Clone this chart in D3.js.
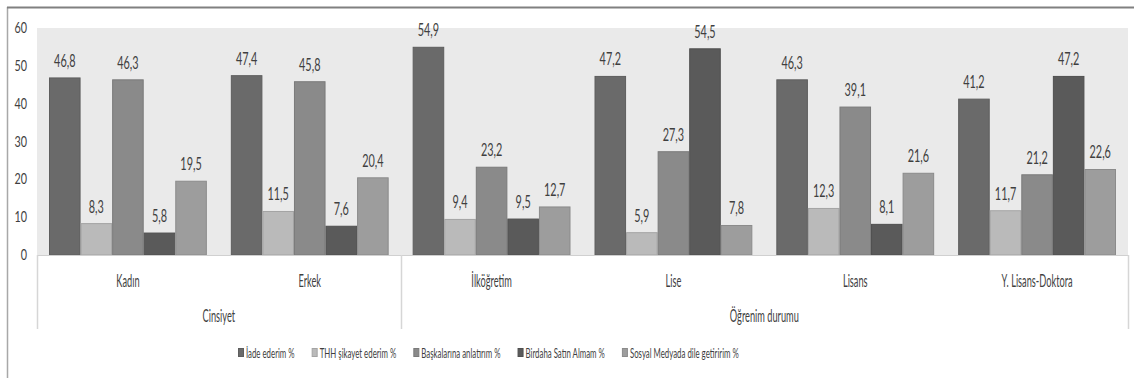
<!DOCTYPE html>
<html>
<head>
<meta charset="utf-8">
<script src="https://cdn.jsdelivr.net/npm/d3@7"></script>
<style>
  html, body { margin: 0; padding: 0; background: #fff; }
  svg { display: block; }
  text { font-family: Lato, "DejaVu Sans Condensed", sans-serif; fill: #3f3f3f; }
</style>
</head>
<body>
<div id="chart"></div>
<script>
// categories (level 1) and their parent groups (level 2)
const categories = ['Kadın', 'Erkek', 'İlköğretim', 'Lise', 'Lisans', 'Y. Lisans-Doktora'];
const groups = [
  { name: 'Cinsiyet', from: 0, to: 1 },
  { name: 'Öğrenim durumu', from: 2, to: 5 }
];
const seriesNames = ['İade ederim %', 'THH şikayet ederim %', 'Başkalarına anlatırım %', 'Birdaha Satın Almam %', 'Sosyal Medyada dile getiririm %'];
const seriesColors = ['#6a6a6a', '#bababa', '#8a8a8a', '#5a5a5a', '#9d9d9d'];
const iade     = [46.8, 47.4, 54.9, 47.2, 46.3, 41.2];
const sikayet  = [8.3, 11.5, 9.4, 5.9, 12.3, 11.7];
const anlatir  = [46.3, 45.8, 23.2, 27.3, 39.1, 21.2];
const almam    = [5.8, 7.6, 9.5, 54.5, 8.1, 47.2];
const sosyal   = [19.5, 20.4, 12.7, 7.8, 21.6, 22.6];
const seriesValues = [iade, sikayet, anlatir, almam, sosyal];
const yTicks = [0, 10, 20, 30, 40, 50, 60];

const W = 1134, H = 378;
const plot = { left: 37, right: 1128, top: 28, bottom: 255 };

// the original uses a narrow, tall font; squeeze text horizontally
function squeeze(sel, sx, sy) {
  sel.attr('transform', function () {
    const x = +this.getAttribute('x'), y = +this.getAttribute('y');
    return `translate(${x},${y}) scale(${sx},${sy || 1})`;
  }).attr('x', 0).attr('y', 0);
}

const svg = d3.select('#chart').append('svg')
  .attr('width', W).attr('height', H);

// outer frame (only top/left visible in the crop)
svg.append('line').attr('x1', 7.5).attr('x2', 7.5).attr('y1', 7).attr('y2', H)
  .attr('stroke', '#a8a8a8').attr('stroke-width', 1.5);
svg.append('line').attr('x1', 7).attr('x2', W).attr('y1', 7.5).attr('y2', 7.5)
  .attr('stroke', '#808080').attr('stroke-width', 2);

// plot background
svg.append('rect')
  .attr('x', plot.left).attr('y', plot.top)
  .attr('width', plot.right - plot.left).attr('height', plot.bottom - plot.top)
  .attr('fill', '#eaeaea');

const y = d3.scaleLinear().domain([0, 60]).range([plot.bottom, plot.top]);
const x0 = d3.scaleBand().domain(categories).range([plot.left, plot.right])
  .paddingInner(0.132).paddingOuter(0.066);
const x1 = d3.scaleBand().domain(d3.range(seriesNames.length)).range([0, x0.bandwidth()]);

// y axis labels
svg.append('g').selectAll('text').data(yTicks).join('text')
  .attr('x', 27).attr('y', d => y(d) + 5)
  .attr('text-anchor', 'end').attr('font-size', 15)
  .text(d => d)
  .call(squeeze, 0.72, 1.05);

// bars
const gCat = svg.append('g').selectAll('g').data(categories).join('g')
  .attr('transform', d => `translate(${x0(d)},0)`);

const cells = (c, ci) => seriesValues.map((vals, si) => ({ si, v: vals[ci] }));

gCat.selectAll('rect').data(cells)
  .join('rect')
  .attr('x', d => x1(d.si) + 0.5).attr('width', x1.bandwidth() - 1)
  .attr('y', d => y(d.v)).attr('height', d => y(0) - y(d.v))
  .attr('fill', d => seriesColors[d.si])
  .attr('stroke', d => d3.color(seriesColors[d.si]).darker(0.35)).attr('stroke-width', 1);

gCat.selectAll('text.val').data(cells)
  .join('text').attr('class', 'val')
  .attr('x', d => x1(d.si) + x1.bandwidth() / 2)
  .attr('y', d => y(d.v) - 11)
  .attr('text-anchor', 'middle').attr('font-size', 16)
  .text(d => d.v.toFixed(1).replace('.', ','))
  .call(squeeze, 0.68, 1.02);

// category axis
const axisG = svg.append('g');
axisG.append('line')
  .attr('x1', plot.left).attr('x2', plot.right)
  .attr('y1', plot.bottom + 0.5).attr('y2', plot.bottom + 0.5)
  .attr('stroke', '#d0d0d0');
const sepX = [plot.left, ...groups.map(g => x0(categories[g.to]) + x0.bandwidth() + x0.step() * x0.paddingInner() / 2)];
sepX[sepX.length - 1] = plot.right;
axisG.selectAll('line.sep').data(sepX).join('line').attr('class', 'sep')
  .attr('x1', d => Math.round(d) + 0.5).attr('x2', d => Math.round(d) + 0.5)
  .attr('y1', plot.bottom).attr('y2', 329)
  .attr('stroke', '#d6d6d6').attr('stroke-width', 1.5);

axisG.selectAll('text.cat').data(categories).join('text').attr('class', 'cat')
  .attr('x', d => x0(d) + x0.bandwidth() / 2).attr('y', 287)
  .attr('text-anchor', 'middle').attr('font-size', 16.5)
  .text(d => d)
  .call(squeeze, 0.56, 1);

axisG.selectAll('text.grp').data(groups).join('text').attr('class', 'grp')
  .attr('x', (g, i) => (sepX[i] + sepX[i + 1]) / 2).attr('y', 322)
  .attr('text-anchor', 'middle').attr('font-size', 16.5)
  .text(g => g.name)
  .call(squeeze, 0.56, 1);

// legend
const legend = svg.append('g').attr('transform', 'translate(238,0)');
const lsx = 0.56;
let lx = 0;
seriesNames.forEach((name, i) => {
  const item = legend.append('g').attr('transform', `translate(${lx},0)`);
  item.append('rect').attr('x', 0.5).attr('y', 348.5).attr('width', 5).attr('height', 8)
    .attr('fill', seriesColors[i]).attr('stroke', d3.color(seriesColors[i]).darker(0.35));
  const t = item.append('text').attr('x', 8).attr('y', 358)
    .attr('font-size', 14).text(name);
  const w = t.node().getComputedTextLength() * lsx;
  t.call(squeeze, lsx, 1);
  lx += 8 + w + 17;
});
</script>
</body>
</html>
